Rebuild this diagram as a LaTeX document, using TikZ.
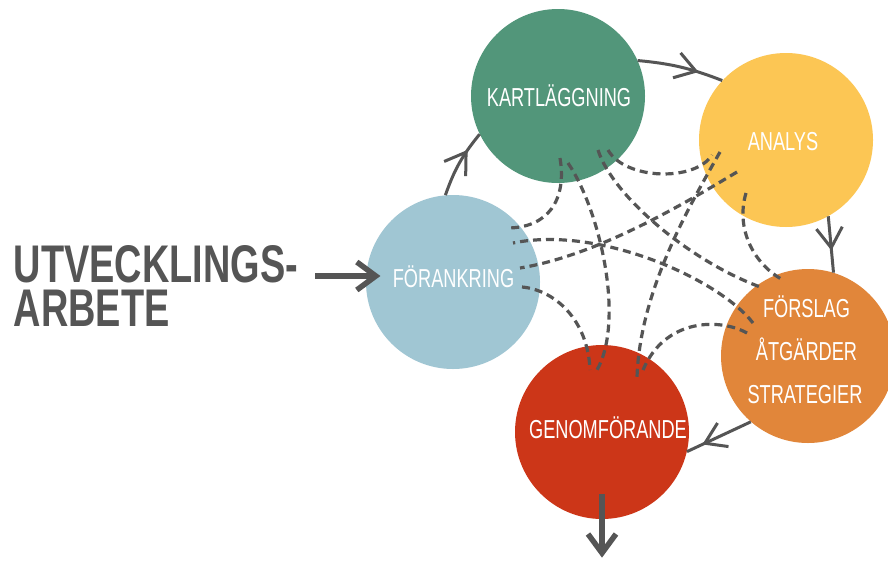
\documentclass[tikz,border=0pt]{standalone}
\usepackage{fontspec}
\usetikzlibrary{calc,decorations.markings}
\newfontfamily\lblfont[FakeStretch=0.70]{Liberation Sans}
\newfontfamily\ttlfont[FakeStretch=0.715]{Liberation Sans}
\definecolor{cgreen}{RGB}{82,150,122}
\definecolor{cyellow}{RGB}{252,198,84}
\definecolor{cblue}{RGB}{160,198,211}
\definecolor{cred}{RGB}{204,54,24}
\definecolor{corange}{RGB}{225,134,58}
\definecolor{cgray}{RGB}{85,85,85}
\tikzset{
  circ/.style={circle, minimum size=174pt, inner sep=0pt, draw=none},
  lbl/.style={text=white, font=\lblfont\fontsize{26}{26}\selectfont, inner sep=0pt, anchor=base},
  ttl/.style={text=cgray, font=\ttlfont\bfseries\fontsize{53}{43.5}\selectfont, inner sep=0pt, anchor=north west, align=left},
  dsh/.style={draw=cgray, line width=3.2pt, dash pattern=on 8pt off 5pt},
  flow/.style={draw=cgray, line width=3pt},
  midv/.style={postaction={decorate}, decoration={markings, mark=at position #1 with {\draw[cgray, line width=3pt, solid] (-20pt,13pt) -- (0pt,0pt) -- (-20pt,-13pt);}}},
  big/.style={draw=cgray, line width=5.5pt},
  endv/.style={postaction={decorate}, decoration={markings, mark=at position 1 with {\draw[cgray, line width=5.5pt, solid] (-19pt,14pt) -- (0pt,0pt) -- (-19pt,-14pt);}}},
}
\begin{document}
\begin{tikzpicture}[x=1pt,y=-1pt]
\useasboundingbox (0,0) rectangle (888,560);
\fill[white] (0,0) rectangle (888,560);

% circles
\node[circ, fill=cgreen]  (K) at (558,96) {};
\node[circ, fill=cyellow] (A) at (786,140) {};
\node[circ, fill=cblue]   (F) at (453,282) {};
\node[circ, fill=cred]    (G) at (602,432) {};
\node[circ, fill=corange] (S) at (808,356) {};

% cycle arrows
\draw[flow, midv=0.68] (F.95) to[bend left=10] (K.206);
\draw[flow, midv=0.68] (K.24) to[bend left=8] (A.137);
\draw[flow, midv=0.56] (A.-61) -- (S.73);
\draw[flow, midv=0.72] (S.229) -- (G.-13);

% input and output arrows
\coordinate (inS) at (315,276);
\coordinate (inE) at ($(F.west)+(10,-6)$);
\draw[big, endv] (inS) -- (inE);
\coordinate (outS) at ($(G)+(0,62)$);
\coordinate (outE) at ($(G)+(0,121)$);
\draw[big, endv] (outS) -- (outE);

% dashed links
\draw[dsh] ($(K)+(2,62)$) .. controls (567,200) and (548,228) .. ($(F)+(54,-54)$);
\draw[dsh] ($(K)+(10,67)$) .. controls (600,210) and (625,320) .. ($(G)+(-5,-62)$);
\draw[dsh] ($(K)+(50,54)$) .. controls (625,180) and (695,182) .. ($(A)+(-74,15)$);
\draw[dsh] ($(K)+(40,54)$) .. controls (612,195) and (690,262) .. ($(S)+(-45,-68)$);
\draw[dsh] ($(A)+(-66,12)$) .. controls (690,205) and (640,290) .. ($(G)+(35,-55)$);
\draw[dsh] ($(A)+(-49,32)$) .. controls (690,200) and (600,255) .. ($(F)+(67,-14)$);
\draw[dsh] ($(A)+(-40,53)$) .. controls (735,230) and (755,265) .. ($(S)+(-25,-76)$);
\draw[dsh] ($(S)+(-61,-23)$) .. controls (720,318) and (665,318) .. ($(G)+(41,-62)$);
\draw[dsh] ($(S)+(-55,-33)$) .. controls (720,280) and (600,225) .. ($(F)+(60,-39)$);
\draw[dsh] ($(F)+(69,5)$) .. controls (555,290) and (588,320) .. ($(G)+(-12,-62)$);

% labels
\node[lbl] (Kt) at ($(K)+(1,10)$) {KARTLÄGGNING};
\node[lbl] (At) at ($(A)+(-3,10)$) {ANALYS};
\node[lbl] (Ft) at ($(F)+(0.5,5)$) {FÖRANKRING};
\node[lbl] (Gt) at ($(G)+(6,6)$) {GENOMFÖRANDE};
\node[lbl] (S1) at ($(S)+(-1.5,-39)$) {FÖRSLAG};
\node[lbl] (S2) at ($(S)+(-1.5,4)$) {ÅTGÄRDER};
\node[lbl] (S3) at ($(S)+(-3,47)$) {STRATEGIER};

% title
\node[ttl] (T) at (13.5,245.5) {UTVECKLINGS-\\ARBETE};
\end{tikzpicture}
\end{document}
